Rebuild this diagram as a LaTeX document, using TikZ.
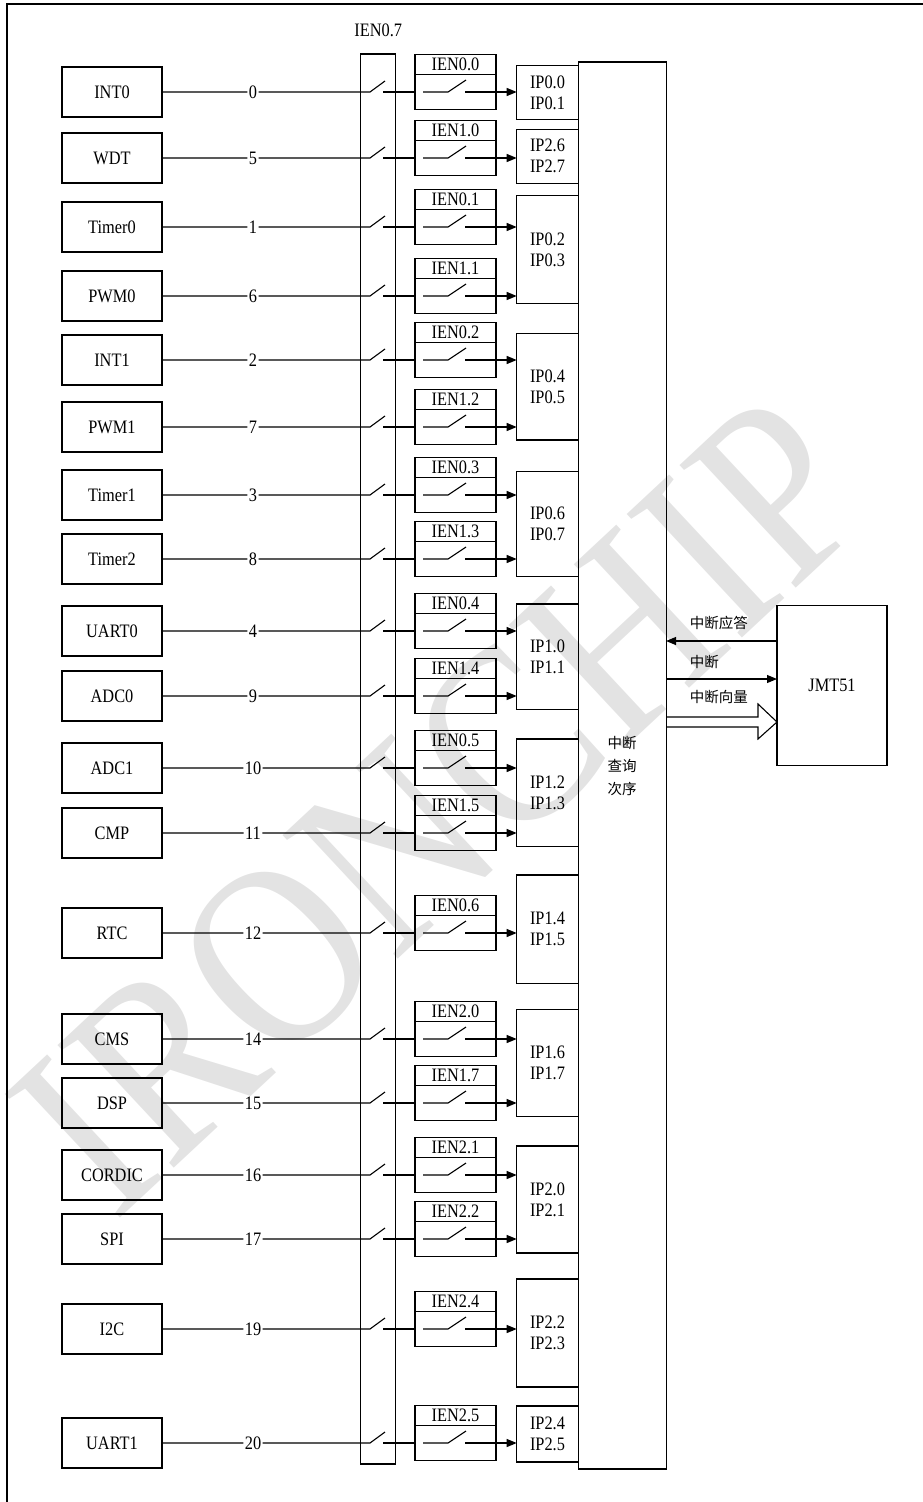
\documentclass[tikz,border=0pt]{standalone}
\usepackage{fontspec}
\setmainfont{Liberation Serif}[FakeStretch=0.86]
\newfontfamily\cjk{Noto Sans CJK SC}
\usepackage{tikz}
\usetikzlibrary{arrows.meta,positioning,calc}

\begin{document}
\begin{tikzpicture}[x=1pt,y=-1pt,line width=1.1pt,
  txt/.style={font=\fontsize{19}{21}\selectfont},
  src/.style={rectangle,draw,minimum width=100pt,minimum height=50pt,inner sep=0pt,outer sep=0pt,txt},
  num/.style={inner sep=1pt,txt},
  ienbody/.style={rectangle,draw,minimum width=81pt,minimum height=35pt,inner sep=0pt,outer sep=0pt},
  ienhead/.style={ienbody,minimum height=20pt,txt},
  ipbox/.style={rectangle,draw,minimum width=61.6pt,inner sep=0pt,outer sep=0pt,align=center,txt},
  cjktxt/.style={font=\cjk\fontsize{14.5}{23}\selectfont},
  arr/.style={-{Triangle[length=10pt,width=8pt]}},
  node distance=0pt
]
\useasboundingbox (0,0) rectangle (923,1502);
% watermark
\node[text=black!11,rotate=43,font=\fontsize{258}{258}\selectfont] (mark) at (440,805) {IRONCHIP};
\draw[line width=1.5pt] (923,4) -- (7,4) -- (7,1502);

% global enable bar and query block
\node[draw,minimum width=35pt,minimum height=1410pt,outer sep=0pt] (bar) at (378.2,759) {};
\node[txt,inner sep=0pt,above=17pt of bar] (ienall) {IEN0.7};
\node[draw,minimum width=87.7pt,minimum height=1407pt,inner sep=0pt,outer sep=0pt,
      cjktxt,align=center] (scan) at (622.2,765.5) {中断\\查询\\次序};

% priority boxes
\foreach \t/\b/\la/\lb [count=\j] in {65.7/119.3/IP0.0/IP0.1, 129.3/183.3/IP2.6/IP2.7,
    195.7/303.3/IP0.2/IP0.3, 333.3/440/IP0.4/IP0.5, 471.7/576.7/IP0.6/IP0.7,
    604/709.3/IP1.0/IP1.1, 739/846.7/IP1.2/IP1.3, 875/983.3/IP1.4/IP1.5,
    1009.3/1116.7/IP1.6/IP1.7, 1146/1253/IP2.0/IP2.1, 1279/1387/IP2.2/IP2.3,
    1406/1462/IP2.4/IP2.5}
  \node[ipbox,minimum height={\b-\t}] (ip\j) at (547.5,{(\t+\b)/2}) {\la\\\lb};

% sources, switches, enables
\foreach \y/\src/\num/\ien/\ip [count=\i] in {92/INT0/0/IEN0.0/1, 158/WDT/5/IEN1.0/2,
    227/Timer0/1/IEN0.1/3, 296/PWM0/6/IEN1.1/3, 360/INT1/2/IEN0.2/4, 427/PWM1/7/IEN1.2/4,
    495/Timer1/3/IEN0.3/5, 559/Timer2/8/IEN1.3/5, 631/UART0/4/IEN0.4/6, 696/ADC0/9/IEN1.4/6,
    768/ADC1/10/IEN0.5/7, 833/CMP/11/IEN1.5/7, 933/RTC/12/IEN0.6/8, 1039/CMS/14/IEN2.0/9,
    1103/DSP/15/IEN1.7/9, 1175/CORDIC/16/IEN2.1/10, 1239/SPI/17/IEN2.2/10,
    1329/I2C/19/IEN2.4/11, 1443/UART1/20/IEN2.5/12}
{
  \node[src] (s\i) at (112,\y) {\src};
  \node[num] (n\i) at (253,\y) {\num};
  \coordinate (a\i) at (370,\y);
  \draw (s\i) -- (n\i) -- (a\i) -- ++(15,-11);
  \node[ienbody] (e\i) at (455.5,\y) {};
  \node[ienhead,above=of e\i] (h\i) {\ien};
  \draw ([xshift=13pt]a\i) -- (e\i.west);
  \draw ([xshift=8pt]e\i.west) -- ++(25,0) -- ++(18,-12);
  \draw[arr] ([xshift=50pt]e\i.west) -- (e\i.west -| ip\ip.west);
}

% CPU side
\node[draw,minimum width=110pt,minimum height=159.3pt,inner sep=0pt,outer sep=0pt,txt] (jmt) at (832,685.4) {JMT51};
\draw[arr] ([yshift=44.4pt]jmt.west) -- ([yshift=44.4pt]jmt.west -| scan.east);
\node[cjktxt,anchor=west] (lack) at (686,623) {中断应答};
\draw[arr] ([yshift=6.4pt]jmt.west -| scan.east) -- ([yshift=6.4pt]jmt.west);
\node[cjktxt,anchor=west] (lint) at (686,662) {中断};
\coordinate (vec) at ([yshift=-36.6pt]jmt.west);
\draw ($(vec -| scan.east)+(0,-5)$) -- ($(vec)+(-19,-5)$) -- ($(vec)+(-19,-18)$) -- (vec)
   -- ($(vec)+(-19,17)$) -- ($(vec)+(-19,5)$) -- ($(vec -| scan.east)+(0,5)$);
\node[cjktxt,anchor=west] (lvec) at (686,697) {中断向量};
\end{tikzpicture}
\end{document}
